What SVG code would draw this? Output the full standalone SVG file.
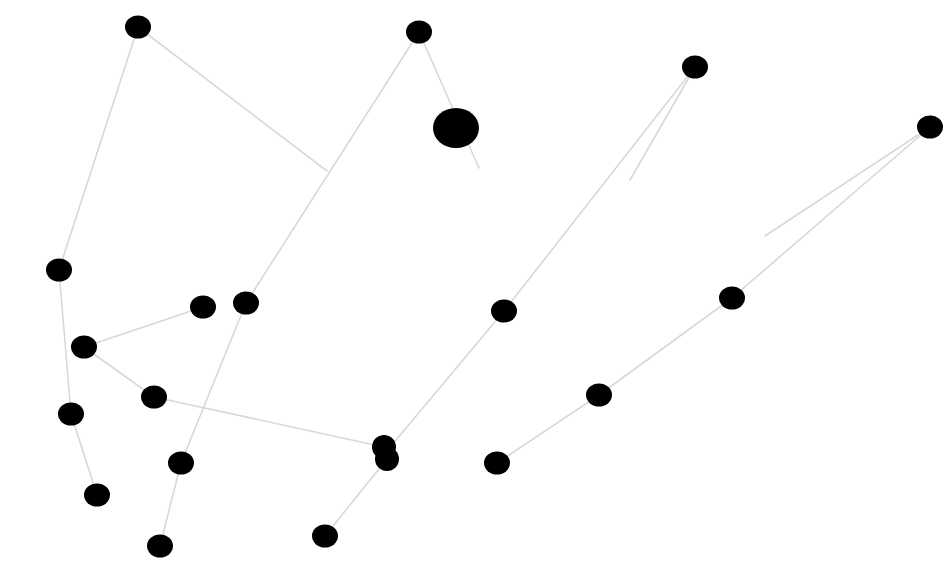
<svg xmlns="http://www.w3.org/2000/svg" width="943" height="566" viewBox="0 0 943 566">
<style>
.e{stroke:#d8d8d8;stroke-width:1.6;fill:none;stroke-linecap:round}
.n{fill:#000}
</style>
<rect width="943" height="566" fill="#fff"/>
<g id="edges">
<line class="e" x1="138" y1="27" x2="59" y2="270"/>
<line class="e" x1="138" y1="27" x2="327" y2="171"/>
<line class="e" x1="419" y1="32" x2="246" y2="303"/>
<line class="e" x1="419" y1="32" x2="479" y2="168"/>
<line class="e" x1="695" y1="67" x2="504" y2="311"/>
<line class="e" x1="695" y1="67" x2="630" y2="180"/>
<line class="e" x1="504" y1="311" x2="386" y2="452"/>
<line class="e" x1="930" y1="127" x2="765" y2="236"/>
<line class="e" x1="930" y1="127" x2="732" y2="298"/>
<line class="e" x1="732" y1="298" x2="599" y2="395"/>
<line class="e" x1="599" y1="395" x2="497" y2="463"/>
<line class="e" x1="59" y1="270" x2="71" y2="414"/>
<line class="e" x1="84" y1="347" x2="203" y2="307"/>
<line class="e" x1="84" y1="347" x2="154" y2="397"/>
<line class="e" x1="154" y1="397" x2="384" y2="447"/>
<line class="e" x1="71" y1="414" x2="97" y2="495"/>
<line class="e" x1="246" y1="303" x2="181" y2="463"/>
<line class="e" x1="181" y1="463" x2="160" y2="546"/>
<line class="e" x1="387" y1="459" x2="325" y2="536"/>
</g>
<g id="A"><ellipse class="n" cx="138" cy="27" rx="13" ry="11.5"/></g>
<g id="B"><ellipse class="n" cx="419" cy="32" rx="13" ry="11.5"/></g>
<g id="C"><ellipse class="n" cx="456" cy="128" rx="23" ry="20"/></g>
<g id="D"><ellipse class="n" cx="695" cy="67" rx="13" ry="11.5"/></g>
<g id="E"><ellipse class="n" cx="930" cy="127" rx="13" ry="11.5"/></g>
<g id="F"><ellipse class="n" cx="59" cy="270" rx="13" ry="11.5"/></g>
<g id="G"><ellipse class="n" cx="203" cy="307" rx="13" ry="11.5"/></g>
<g id="H"><ellipse class="n" cx="246" cy="303" rx="13" ry="11.5"/></g>
<g id="I"><ellipse class="n" cx="504" cy="311" rx="13" ry="11.5"/></g>
<g id="J"><ellipse class="n" cx="732" cy="298" rx="13" ry="11.5"/></g>
<g id="K"><ellipse class="n" cx="84" cy="347" rx="13" ry="11.5"/></g>
<g id="L"><ellipse class="n" cx="154" cy="397" rx="13" ry="11.5"/></g>
<g id="M"><ellipse class="n" cx="71" cy="414" rx="13" ry="11.5"/></g>
<g id="N1"><ellipse class="n" cx="384" cy="447" rx="12" ry="12"/></g>
<g id="N2"><ellipse class="n" cx="387" cy="459" rx="12" ry="12"/></g>
<g id="O"><ellipse class="n" cx="181" cy="463" rx="13" ry="11.5"/></g>
<g id="P"><ellipse class="n" cx="497" cy="463" rx="13" ry="11.5"/></g>
<g id="Q"><ellipse class="n" cx="599" cy="395" rx="13" ry="11.5"/></g>
<g id="R"><ellipse class="n" cx="97" cy="495" rx="13" ry="11.5"/></g>
<g id="S"><ellipse class="n" cx="160" cy="546" rx="13" ry="11.5"/></g>
<g id="T"><ellipse class="n" cx="325" cy="536" rx="13" ry="11.5"/></g>
</svg>
